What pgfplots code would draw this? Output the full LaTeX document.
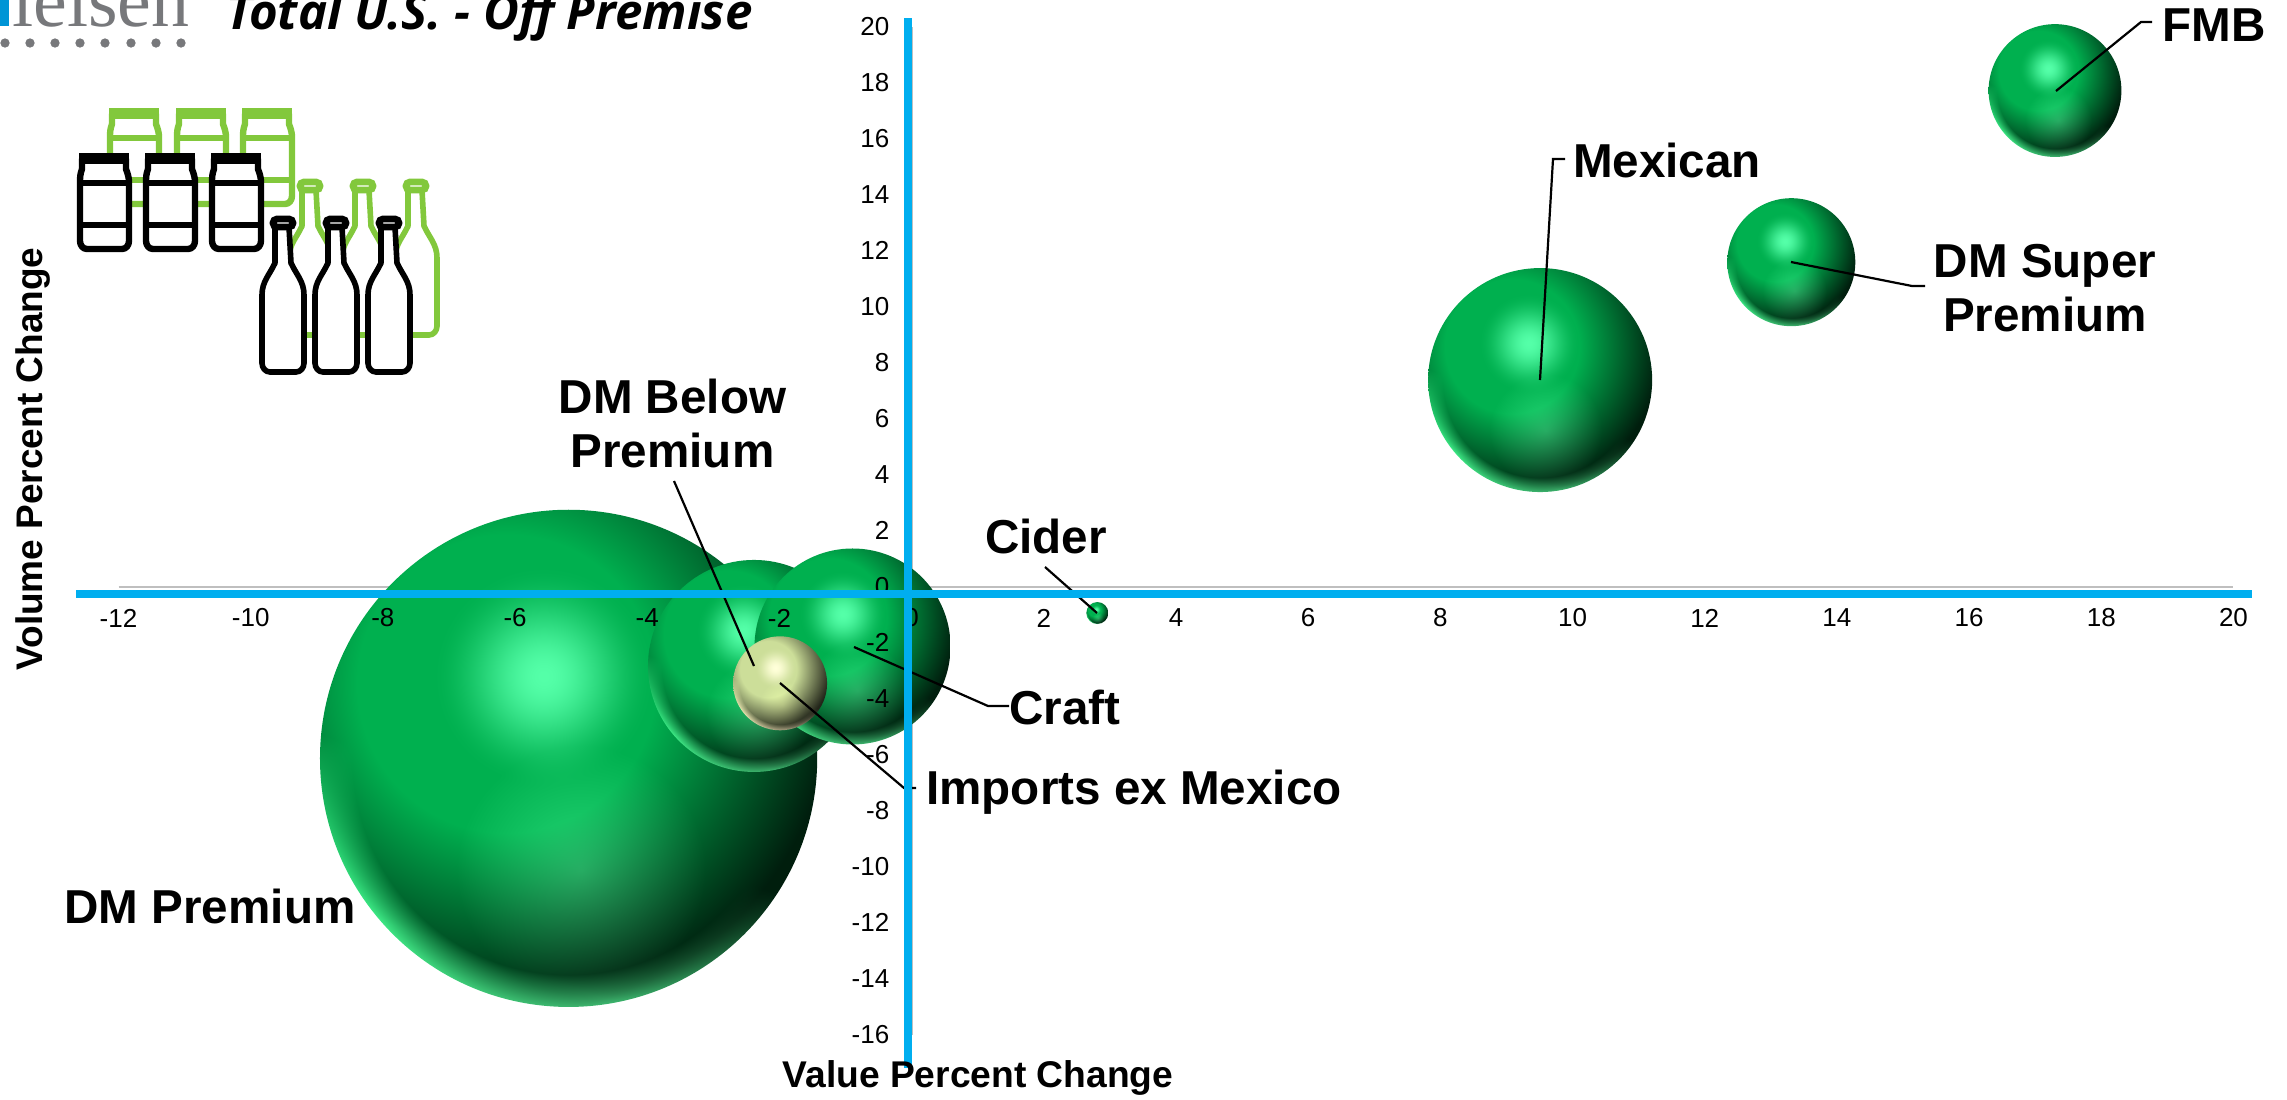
\documentclass[border=0pt]{standalone}
\usepackage{pgfplots}
\pgfplotsset{compat=1.18}
\usepackage{fontspec}
\setmainfont{Liberation Sans}
\newfontfamily\titlefont{Open Sans}
\newfontfamily\logofont{Liberation Serif}

% Sphere shading: u,v in [-1,1] over the path; shade s, highlight h, lower glow g, rim m.
% The second argument turns those four values into rgb.
\newcommand\declareball[2]{%
\pgfdeclarefunctionalshading{#1}{\pgfpointorigin}{\pgfpoint{100bp}{100bp}}{}{%
50 sub 25 div exch 50 sub 25 div exch
1 index 0.25 add dup mul 1 index 0.3 sub dup mul add sqrt
0.6 sub 1.15 mul 1 exch sub dup 0.17 lt {pop 0.17} if dup 1 gt {pop 1} if
2 index 0.1 add dup mul 2 index 0.33 sub dup mul add sqrt
0.45 div 1 exch sub dup 0 lt {pop 0} if dup dup mul exch 2 mul 3 exch sub mul
3 index 0.05 sub dup mul 3 index 0.45 add dup mul add sqrt
0.5 div 1 exch sub dup 0 lt {pop 0} if
4 index dup mul 4 index dup mul add sqrt
0.87 sub 7.7 mul dup 0 lt {pop 0} if dup 1 gt {pop 1} if
4 index neg 6 index 0.35 mul sub
0.25 sub 1.5 mul dup 0 lt {pop 0} if dup 1 gt {pop 1} if mul
#2}}
\declareball{greenball}{%
3 index 0.0 mul 3 index 0.33 mul add 2 index 0.15 mul add 1 index 0.24 mul add
4 index 0.69 mul 4 index 0.31 mul add 3 index 0.15 mul add 2 index 0.60 mul add
5 index 0.31 mul 5 index 0.35 mul add 4 index 0.15 mul add 3 index 0.38 mul add
9 3 roll pop pop pop pop pop pop}
\declareball{creamball}{%
3 index 0.80 mul 3 index 0.20 mul add 2 index 0.10 mul add 1 index 0.55 mul add
4 index 0.87 mul 4 index 0.13 mul add 3 index 0.10 mul add 2 index 0.50 mul add
5 index 0.60 mul 5 index 0.25 mul add 4 index 0.06 mul add 3 index 0.42 mul add
9 3 roll pop pop pop pop pop pop}

\pgfdeclareplotmark{greenbubble}{\pgfpathcircle{\pgfpointorigin}{\pgfplotmarksize}\pgfshadepath{greenball}{0}\pgfusepath{discard}}
\pgfdeclareplotmark{creambubble}{\pgfpathcircle{\pgfpointorigin}{\pgfplotmarksize}\pgfshadepath{creamball}{0}\pgfusepath{discard}}

\definecolor{axisblue}{HTML}{00AEEF}
\definecolor{axisgray}{HTML}{BFBFBF}
\definecolor{icongreen}{HTML}{82C83C}
\definecolor{logogray}{HTML}{77787B}
\definecolor{logoblue}{HTML}{0095D6}

% One can with its lid and two bands, left edge at #1, lid top at #2.
\newcommand\can[3]{%
  \draw[#3,line width=3.2pt,fill=white,line join=round]
    (#1+5,#2+6) -- (#1+5,#2+16) to[out=-110,in=90] (#1+3,#2+30) -- (#1+3,#2+88)
    to[out=-90,in=180] (#1+10,#2+96) -- (#1+45,#2+96) to[out=0,in=-90] (#1+52,#2+88)
    -- (#1+52,#2+30) to[out=90,in=-70] (#1+49,#2+16) -- (#1+49,#2+6) -- cycle;
  \fill[#3] (#1+2,#2+0) rectangle (#1+52,#2+11);
  \draw[#3,line width=3.4pt] (#1+3,#2+30) -- (#1+52,#2+30);
  \draw[#3,line width=3.4pt] (#1+3,#2+72) -- (#1+52,#2+72);
}
% One bottle, left edge at #1, cap top at #2.
\newcommand\bottle[3]{%
  \draw[#3,line width=2.8pt,fill=white,line join=round]
    (#1+15,#2+10) -- (#1+15,#2+46) to[out=-115,in=90] (#1+2,#2+78) -- (#1+2,#2+146)
    to[out=-90,in=180] (#1+10,#2+155) -- (#1+36,#2+155) to[out=0,in=-90] (#1+44,#2+146)
    -- (#1+44,#2+78) to[out=90,in=-65] (#1+31,#2+46) -- (#1+29,#2+10);
  \draw[#3,line width=3.4pt,fill=white,rounded corners=2pt] (#1+13,#2+2) rectangle (#1+33,#2+10);
}

\pgfplotsset{canvas/.style={
  at={(0,0)}, anchor=south west, clip=false,
  scale only axis, width=1143.5pt, height=549.5pt}}

\begin{document}
\begin{tikzpicture}
\useasboundingbox (0,0) rectangle (1143.5pt,549.5pt);

% Bubbles: x = value change, y = volume change, mark size = bubble radius
\begin{axis}[canvas,
  xmin=-13.793, xmax=20.811, ymin=-18.286, ymax=20.964,
  hide axis,
]
\addplot[axisgray, line width=1pt] coordinates {(-12,0) (20,0)};
\addplot[axisgray, line width=1pt] coordinates {(0,-16) (0,20)};
\addplot[only marks, mark=greenbubble, mark size=124.3pt] coordinates {(-5.19,-6.12)};
\addplot[only marks, mark=greenbubble, mark size=53pt]    coordinates {(-2.385,-2.82)};
\addplot[only marks, mark=greenbubble, mark size=49pt]    coordinates {(-0.894,-2.125)};
\addplot[only marks, mark=creambubble, mark size=23.5pt]  coordinates {(-1.99,-3.44)};
\addplot[only marks, mark=greenbubble, mark size=5.5pt]   coordinates {(2.81,-0.93)};
\addplot[only marks, mark=greenbubble, mark size=56pt]    coordinates {(9.51,7.39)};
\addplot[only marks, mark=greenbubble, mark size=32pt]    coordinates {(13.31,11.6)};
\addplot[only marks, mark=greenbubble, mark size=33.2pt]  coordinates {(17.3,17.73)};
\end{axis}

% Tick labels sit over the bubbles
\begin{axis}[canvas,
  xmin=-13.793, xmax=20.811, ymin=-18.286, ymax=20.964,
  axis lines=middle, axis line style={draw=none},
  hide obscured x ticks=false, hide obscured y ticks=false,
  major tick length=0pt, tick style={draw=none},
  xtick={-12,-10,-8,-6,-4,-2,0,2,4,6,8,10,12,14,16,18,20},
  xticklabels={-12,-10,-8,-6,-4,-2,0,2,4,6,8,10,12,14,16,18,20},
  ytick={-16,-14,-12,-10,-8,-6,-4,-2,0,2,4,6,8,10,12,14,16,18,20},
  yticklabels={-16,-14,-12,-10,-8,-6,-4,-2,0,2,4,6,8,10,12,14,16,18,20},
  tick label style={font=\fontsize{13}{15}\selectfont, inner sep=0pt},
  x tick label style={anchor=center, yshift=-15.5pt},
  y tick label style={anchor=east, xshift=-11pt, yshift=0.2pt},
]
\end{axis}

% Annotation layer, in canvas units with the origin at the top left
\begin{axis}[canvas,
  xmin=0, xmax=2287, ymin=0, ymax=1099, y dir=reverse,
  hide axis,
]
% leader lines
\addplot[black, line width=1.1pt] coordinates {(2056,91) (2141,22) (2152,22)};
\addplot[black, line width=1.1pt] coordinates {(1540,380) (1553,159) (1565,159)};
\addplot[black, line width=1.1pt] coordinates {(1791,262) (1912,286) (1925,286)};
\addplot[black, line width=1.1pt] coordinates {(1097,613) (1045,567)};
\addplot[black, line width=1.1pt] coordinates {(754,666) (674,481)};
\addplot[black, line width=1.1pt] coordinates {(780,683) (904,788) (916,788)};
\addplot[black, line width=1.1pt] coordinates {(854,647) (988,706) (1009,706)};
% quadrant lines
\addplot[axisblue, line width=4pt] coordinates {(76,594) (2252,594)};
\addplot[axisblue, line width=3.8pt] coordinates {(908,18) (908,1068)};

% pack icons
\can{107}{108}{icongreen}
\can{174}{108}{icongreen}
\can{240}{108}{icongreen}
\bottle{287}{180}{icongreen}
\bottle{340}{180}{icongreen}
\bottle{393}{180}{icongreen}
\can{77}{153}{black}
\can{143}{153}{black}
\can{209}{153}{black}
\bottle{260}{217}{black}
\bottle{313}{217}{black}
\bottle{366}{217}{black}

% logo and title
\node[anchor=base west, inner sep=0pt, text=logogray, font=\logofont\fontsize{38}{38}\selectfont] at (12,26) {ielsen};
\fill[logoblue] (0,-5) rectangle (9,26);
\addplot[only marks, mark=*, mark size=2.1pt, logogray, mark options={draw=none}] coordinates
  {(5,43) (30,43) (55,43) (80,43) (105,43) (131,43) (156,43) (181,43)};
\node[anchor=base west, inner sep=0pt, font=\titlefont\bfseries\itshape\fontsize{24.6}{25}\selectfont] at (226,29) {Total U.S. - Off Premise};

% labels
\tikzset{lab/.style={inner sep=0pt, align=center, font=\bfseries\fontsize{23.8}{27}\selectfont}}
\node[lab] at (2214,25) {FMB};
\node[lab] at (1667,160.5) {Mexican};
\node[lab] at (2045,288) {DM Super\\Premium};
\node[lab] at (672.5,423.7) {DM Below\\Premium};
\node[lab] at (1046,536) {Cider};
\node[lab] at (1065,707) {Craft};
\node[lab] at (1134,792) {Imports ex Mexico};
\node[lab] at (210,906) {DM Premium};
\node[inner sep=0pt, font=\bfseries\fontsize{18.6}{20}\selectfont] at (978,1078) {Value Percent Change};
\node[inner sep=0pt, rotate=90, font=\bfseries\fontsize{18.5}{20}\selectfont] at (33,459) {Volume Percent Change};
\end{axis}
\end{tikzpicture}
\end{document}
